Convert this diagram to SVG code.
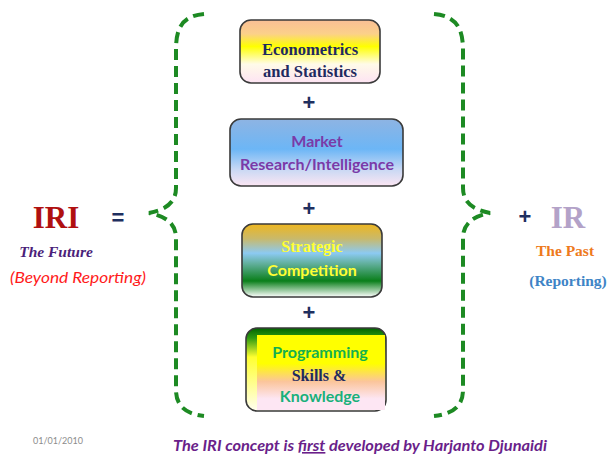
<svg xmlns="http://www.w3.org/2000/svg" width="611" height="457" viewBox="0 0 611 457">
<defs>
<linearGradient id="g1" x1="0" y1="0" x2="0" y2="1">
<stop offset="0" stop-color="#f9bf95"/><stop offset="0.22" stop-color="#fbd08a"/><stop offset="0.42" stop-color="#ffff00"/><stop offset="0.7" stop-color="#fffbe8"/><stop offset="1" stop-color="#fde3f3"/>
</linearGradient>
<linearGradient id="g2" x1="0" y1="0" x2="0" y2="1">
<stop offset="0" stop-color="#8eb4e3"/><stop offset="0.45" stop-color="#6cb6f6"/><stop offset="0.75" stop-color="#c8d8f4"/><stop offset="1" stop-color="#fce6f3"/>
</linearGradient>
<linearGradient id="g3" x1="0" y1="0" x2="0" y2="1">
<stop offset="0" stop-color="#eeb61f"/><stop offset="0.2" stop-color="#c9b96a"/><stop offset="0.4" stop-color="#8ccaf2"/><stop offset="0.55" stop-color="#5fae98"/><stop offset="0.78" stop-color="#0a7f1a"/><stop offset="1" stop-color="#ffffff"/>
</linearGradient>
<linearGradient id="g4" x1="0" y1="0" x2="0" y2="1">
<stop offset="0" stop-color="#ffff00"/><stop offset="0.38" stop-color="#ffff00"/><stop offset="0.62" stop-color="#fbc59b"/><stop offset="0.85" stop-color="#fde6f3"/><stop offset="1" stop-color="#fde6f3"/>
</linearGradient>
<linearGradient id="g4b" x1="0" y1="0" x2="0" y2="1">
<stop offset="0" stop-color="#006400"/><stop offset="0.12" stop-color="#2e9a10"/><stop offset="0.35" stop-color="#ffff30"/><stop offset="1" stop-color="#fffef0"/>
</linearGradient>
<style>
.box{stroke:#3a3a3a;stroke-width:1.6}
.brace{fill:none;stroke:#1d8a23;stroke-width:4;stroke-dasharray:11 6;stroke-linecap:butt}
.plus{font-family:"Liberation Sans",sans-serif;font-weight:bold;font-size:22px;fill:#1f2f5f;text-anchor:middle}
.serif{font-family:"Liberation Serif",serif;font-weight:bold}
.sans{font-family:Lato,"Liberation Sans",sans-serif;font-weight:bold}
.mid{text-anchor:middle}
</style>
</defs>
<g id="connectors">
<path class="brace" d="M204,14 C182,16 176,28 176,50 L176,188 C176,203 165,210 149,213 C165,216 176,223 176,238 L176,390 C176,406 186,414 204,416"/>
<path class="brace" d="M434,14 C456,16 463,28 463,50 L463,188 C463,203 474,210 490,213 C474,216 463,223 463,238 L463,390 C463,406 453,414 434,416"/>
</g>
<g id="node-econometrics">
<rect class="box" x="240" y="20" width="140" height="63" rx="11" fill="url(#g1)"/>
<text class="serif mid" x="310" y="55" font-size="16.5" fill="#1f2a60">Econometrics</text>
<text class="serif mid" x="310" y="77" font-size="16.5" fill="#1f2a60">and Statistics</text>
</g>
<text class="plus" x="309" y="110">+</text>
<g id="node-market">
<rect class="box" x="230" y="119" width="173" height="67" rx="11" fill="url(#g2)"/>
<text class="sans mid" x="317" y="147" font-size="16" fill="#7a3aa8">Market</text>
<text class="sans mid" x="317" y="170" font-size="16" fill="#7a3aa8">Research/Intelligence</text>
</g>
<text class="plus" x="309" y="216">+</text>
<g id="node-strategic">
<rect class="box" x="242" y="224" width="140" height="73" rx="11" fill="url(#g3)"/>
<text class="serif mid" x="312" y="252" font-size="16" fill="#ffff33">Strategic</text>
<text class="sans mid" x="312" y="276" font-size="16" fill="#ffff33">Competition</text>
</g>
<text class="plus" x="309" y="320">+</text>
<g id="node-programming">
<rect class="box" x="246" y="328" width="140" height="83" rx="11" fill="url(#g4b)"/>
<path d="M257,335 L385,335 L385,410 L257,410 Z" fill="url(#g4)"/>
<text class="sans mid" x="320" y="358" font-size="16" fill="#13b04f">Programming</text>
<text class="serif mid" x="319" y="381" font-size="16" fill="#1f2a60">Skills &amp;</text>
<text class="sans mid" x="320" y="402" font-size="16" fill="#19b07a">Knowledge</text>
</g>
<g id="iri">
<text class="serif mid" x="56" y="228" font-size="31" fill="#b01010">IRI</text>
<text x="56" y="257" font-family="'Liberation Serif',serif" font-size="15.5" font-style="italic" font-weight="bold" fill="#4b1f7a" text-anchor="middle">The Future</text>
<text x="78" y="283" font-family="Lato,'Liberation Sans',sans-serif" font-size="16" font-style="italic" fill="#ff1a1a" text-anchor="middle" textLength="136" lengthAdjust="spacingAndGlyphs">(Beyond Reporting)</text>
</g>
<text class="plus" x="118" y="225" font-size="24">=</text>
<text class="plus" x="525" y="224" font-size="26" font-weight="normal">+</text>
<g id="ir">
<text class="serif mid" x="568" y="228" font-size="31" fill="#b3a2c8">IR</text>
<text class="serif mid" x="565" y="256" font-size="15.5" fill="#ee7a1c">The Past</text>
<text class="serif mid" x="568" y="286" font-size="15.5" fill="#3e84c6">(Reporting)</text>
</g>
<text x="33" y="444" font-family="Lato,'Liberation Sans',sans-serif" font-size="9" fill="#8c8c8c">01/01/2010</text>
<text x="173" y="451" font-family="Lato,'Liberation Sans',sans-serif" font-size="16" font-style="italic" font-weight="bold" fill="#6a1f8a" textLength="374" lengthAdjust="spacingAndGlyphs">The IRI concept is <tspan text-decoration="underline">first</tspan> developed by Harjanto Djunaidi</text>
</svg>
